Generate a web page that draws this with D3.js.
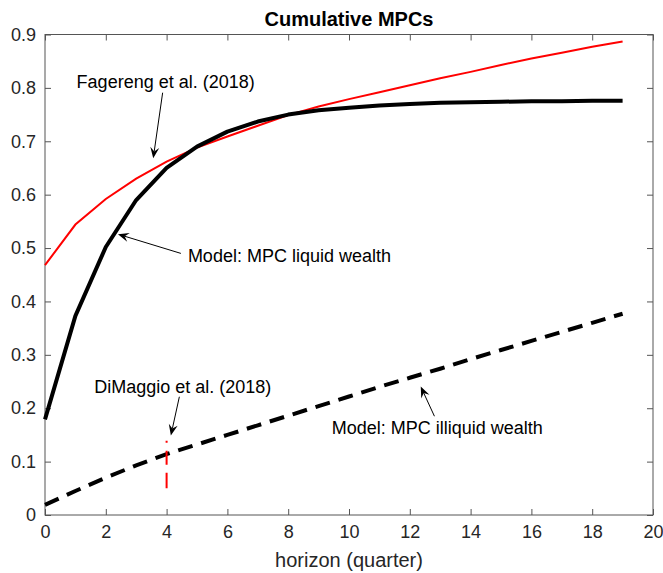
<!DOCTYPE html>
<html><head><meta charset="utf-8">
<script src="https://cdn.jsdelivr.net/npm/d3@7/dist/d3.min.js"></script>
<style>body{margin:0;background:#fff;} svg{display:block;font-family:"Liberation Sans",Arial,sans-serif;}</style>
</head><body><div id="chart"></div>
<script>
const horizon = [0,1,2,3,4,5,6,7,8,9,10,11,12,13,14,15,16,17,18,19];
const liquidMPC = [0.179,0.373,0.502,0.590,0.650,0.690,0.718,0.737,0.750,0.758,0.763,0.767,0.770,0.772,0.773,0.774,0.775,0.775,0.776,0.776];
const fagerengMPC = [0.468,0.544,0.592,0.630,0.662,0.688,0.709,0.729,0.749,0.765,0.779,0.792,0.805,0.818,0.830,0.843,0.855,0.866,0.877,0.887];
const illiquidMPC = [0.019,0.045,0.070,0.093,0.114,0.132,0.150,0.168,0.186,0.204,0.222,0.240,0.257,0.274,0.292,0.309,0.326,0.343,0.360,0.377];
const dimaggio = {x: 4, lo: 0.05, hi: 0.139};
const xTicks = [0,2,4,6,8,10,12,14,16,18,20];
const yTicks = [0,0.1,0.2,0.3,0.4,0.5,0.6,0.7,0.8,0.9];
const annotations = [
  {text:"Fagereng et al. (2018)", tx:1.04, ty:0.800, ax1:3.87, ay1:0.791, ax2:3.56, ay2:0.668},
  {text:"Model: MPC liquid wealth", tx:4.70, ty:0.473, ax1:4.47, ay1:0.490, ax2:2.40, ay2:0.526},
  {text:"DiMaggio et al. (2018)", tx:1.62, ty:0.228, ax1:4.42, ay1:0.2215, ax2:4.14, ay2:0.149},
  {text:"Model: MPC illiquid wealth", tx:9.43, ty:0.152, ax1:12.81, ay1:0.185, ax2:12.36, ay2:0.2406}
];

const W = 663, H = 573;
const m = {left:45, right:10, top:34.5, bottom:58};
const svg = d3.select("#chart").append("svg").attr("width",W).attr("height",H);
const x = d3.scaleLinear().domain([0,20]).range([m.left, W-m.right]);
const y = d3.scaleLinear().domain([0,0.9]).range([H-m.bottom, m.top]);
const axisCol = "#262626";

// box
svg.append("rect").attr("x",x(0)).attr("y",y(0.9)).attr("width",x(20)-x(0)).attr("height",y(0)-y(0.9))
  .attr("fill","none").attr("stroke","#555").attr("stroke-width",1);

function styleAxis(g){ g.select(".domain").remove(); g.selectAll(".tick line").attr("stroke","#555"); g.selectAll(".tick text").attr("fill",axisCol).style("font-size","18px").style("font-family","Liberation Sans, Arial, sans-serif"); }
const tl = 6;
svg.append("g").attr("transform",`translate(0,${y(0)})`).call(d3.axisBottom(x).tickValues(xTicks).tickFormat(d3.format("d")).tickSizeInner(-tl).tickPadding(10)).call(styleAxis);
svg.append("g").attr("transform",`translate(0,${y(0.9)})`).call(d3.axisTop(x).tickValues(xTicks).tickFormat("").tickSizeInner(-tl)).call(styleAxis);
svg.append("g").attr("transform",`translate(${x(0)},0)`).call(d3.axisLeft(y).tickValues(yTicks).tickFormat(d=> d===0?"0":d3.format(".1f")(d)).tickSizeInner(-tl).tickPadding(9)).call(styleAxis);
svg.append("g").attr("transform",`translate(${x(20)},0)`).call(d3.axisRight(y).tickValues(yTicks).tickFormat("").tickSizeInner(-tl)).call(styleAxis);

const line = d3.line().x((d,i)=>x(horizon[i])).y(d=>y(d));
svg.append("path").datum(fagerengMPC).attr("d",line).attr("fill","none").attr("stroke","#ff0000").attr("stroke-width",2);
svg.append("path").datum(liquidMPC).attr("d",line).attr("fill","none").attr("stroke","#000").attr("stroke-width",4).attr("stroke-linejoin","round");
svg.append("path").datum(illiquidMPC).attr("d",line).attr("fill","none").attr("stroke","#000").attr("stroke-width",4).attr("stroke-dasharray","15,9");
svg.append("line").attr("x1",x(dimaggio.x)).attr("x2",x(dimaggio.x)).attr("y1",y(dimaggio.hi)).attr("y2",y(dimaggio.lo))
  .attr("stroke","#ff0000").attr("stroke-width",2).attr("stroke-dasharray","2,8,14,8,16");

// title
svg.append("text").attr("x",(x(0)+x(20))/2).attr("y",26).attr("text-anchor","middle").style("font-size","20px").style("font-weight","bold").attr("fill","#000").text("Cumulative MPCs");
// x label
svg.append("text").attr("x",(x(0)+x(20))/2).attr("y",567).attr("text-anchor","middle").style("font-size","20px").attr("fill",axisCol).text("horizon (quarter)");

// annotations
annotations.forEach(a=>{
  svg.append("text").attr("x",x(a.tx)).attr("y",y(a.ty)).style("font-size","18px").attr("fill","#000").text(a.text);
  const x1=x(a.ax1), y1=y(a.ay1), x2=x(a.ax2), y2=y(a.ay2);
  const ang = Math.atan2(y2-y1, x2-x1);
  const L = 11, Wd = 4.5, notch = 7;
  const ux=Math.cos(ang), uy=Math.sin(ang), px=-uy, py=ux;
  svg.append("line").attr("x1",x1).attr("y1",y1).attr("x2",x2-ux*notch).attr("y2",y2-uy*notch).attr("stroke","#000").attr("stroke-width",1);
  const pts = [[x2,y2],[x2-ux*L+px*Wd,y2-uy*L+py*Wd],[x2-ux*notch,y2-uy*notch],[x2-ux*L-px*Wd,y2-uy*L-py*Wd]];
  svg.append("path").attr("d","M"+pts.map(p=>p.join(",")).join("L")+"Z").attr("fill","#000");
});
</script></body></html>
